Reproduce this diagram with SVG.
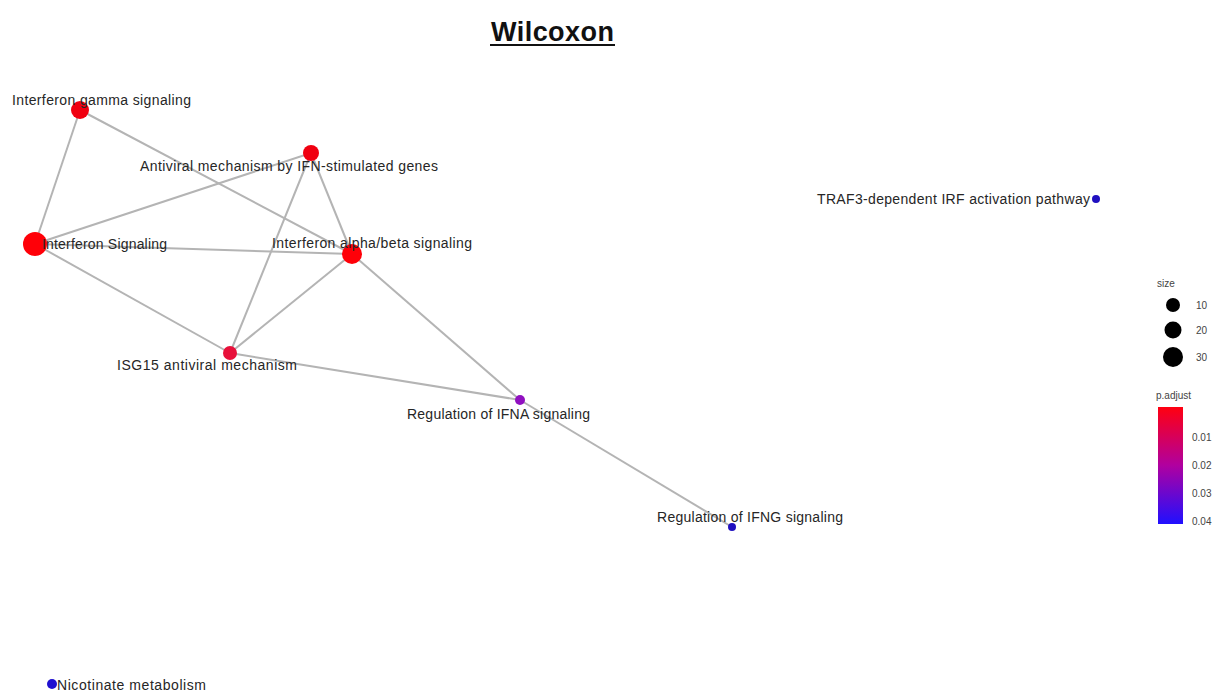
<svg xmlns="http://www.w3.org/2000/svg" width="1212" height="696" viewBox="0 0 1212 696">
<style>
.lbl{font-family:"Liberation Sans",Arial,sans-serif;font-size:14px;fill:#262626}
.leg{font-family:"Liberation Sans",Arial,sans-serif;font-size:10px;fill:#444}
.e{stroke:#b4b4b4;stroke-width:2;fill:none}
</style>
<defs>
<linearGradient id="pg" x1="0" y1="0" x2="0" y2="1">
<stop offset="0" stop-color="#ff0010"/>
<stop offset="0.5" stop-color="#b000a0"/>
<stop offset="1" stop-color="#2010ff"/>
</linearGradient>
</defs>
<rect width="1212" height="696" fill="#fff"/>
<text x="491" y="41" font-family="Liberation Sans,Arial,sans-serif" font-size="27" font-weight="bold" fill="#111" textLength="123">Wilcoxon</text>
<line x1="490" y1="45" x2="615" y2="45" stroke="#111" stroke-width="2"/>
<g id="edges">
<line class="e" x1="80" y1="110" x2="35" y2="244"/>
<line class="e" x1="80" y1="110" x2="352" y2="254"/>
<line class="e" x1="311" y1="153" x2="35" y2="244"/>
<line class="e" x1="311" y1="153" x2="352" y2="254"/>
<line class="e" x1="311" y1="153" x2="230" y2="353"/>
<line class="e" x1="35" y1="244" x2="352" y2="254"/>
<line class="e" x1="35" y1="244" x2="230" y2="353"/>
<line class="e" x1="352" y1="254" x2="230" y2="353"/>
<line class="e" x1="352" y1="254" x2="520" y2="400"/>
<line class="e" x1="230" y1="353" x2="520" y2="400"/>
<line class="e" x1="520" y1="400" x2="732" y2="527" stroke-width="3.5"/>
</g>
<g id="n_ifng"><circle cx="80" cy="110" r="9" fill="#f00010"/><text class="lbl" x="12" y="105" textLength="179">Interferon gamma signaling</text></g>
<g id="n_antiviral"><circle cx="311" cy="153" r="8" fill="#f00010"/><text class="lbl" x="140" y="171" textLength="298">Antiviral mechanism by IFN-stimulated genes</text></g>
<g id="n_ifnsig"><circle cx="35" cy="244" r="12" fill="#ff0008"/><text class="lbl" x="42" y="249" textLength="125">Interferon Signaling</text></g>
<g id="n_ab"><circle cx="352" cy="254" r="10" fill="#ff0008"/><text class="lbl" x="272" y="248" textLength="200">Interferon alpha/beta signaling</text></g>
<g id="n_isg15"><circle cx="230" cy="353" r="7" fill="#e8103a"/><text class="lbl" x="117" y="370" textLength="180">ISG15 antiviral mechanism</text></g>
<g id="n_ifna"><circle cx="520" cy="400" r="5" fill="#9010c0"/><text class="lbl" x="407" y="419" textLength="183">Regulation of IFNA signaling</text></g>
<g id="n_ifngreg"><circle cx="732" cy="527" r="4" fill="#2010c0"/><text class="lbl" x="657" y="522" textLength="186">Regulation of IFNG signaling</text></g>
<g id="n_traf3"><circle cx="1096" cy="199" r="4" fill="#2010c0"/><text class="lbl" x="817" y="204" textLength="273">TRAF3-dependent IRF activation pathway</text></g>
<g id="n_nico"><circle cx="52" cy="684" r="5" fill="#2010d0"/><text class="lbl" x="57" y="690" textLength="149">Nicotinate metabolism</text></g>
<g id="legend">
<text class="leg" x="1157" y="287">size</text>
<circle cx="1173" cy="305" r="7" fill="#000"/><text class="leg" x="1196" y="309">10</text>
<circle cx="1173" cy="330" r="8.5" fill="#000"/><text class="leg" x="1196" y="334">20</text>
<circle cx="1173" cy="357" r="10" fill="#000"/><text class="leg" x="1196" y="361">30</text>
<text class="leg" x="1156" y="399">p.adjust</text>
<rect x="1158" y="407" width="25" height="117" fill="url(#pg)"/>
<text class="leg" x="1192" y="441">0.01</text>
<text class="leg" x="1192" y="469">0.02</text>
<text class="leg" x="1192" y="497">0.03</text>
<text class="leg" x="1192" y="525">0.04</text>
</g>
</svg>
